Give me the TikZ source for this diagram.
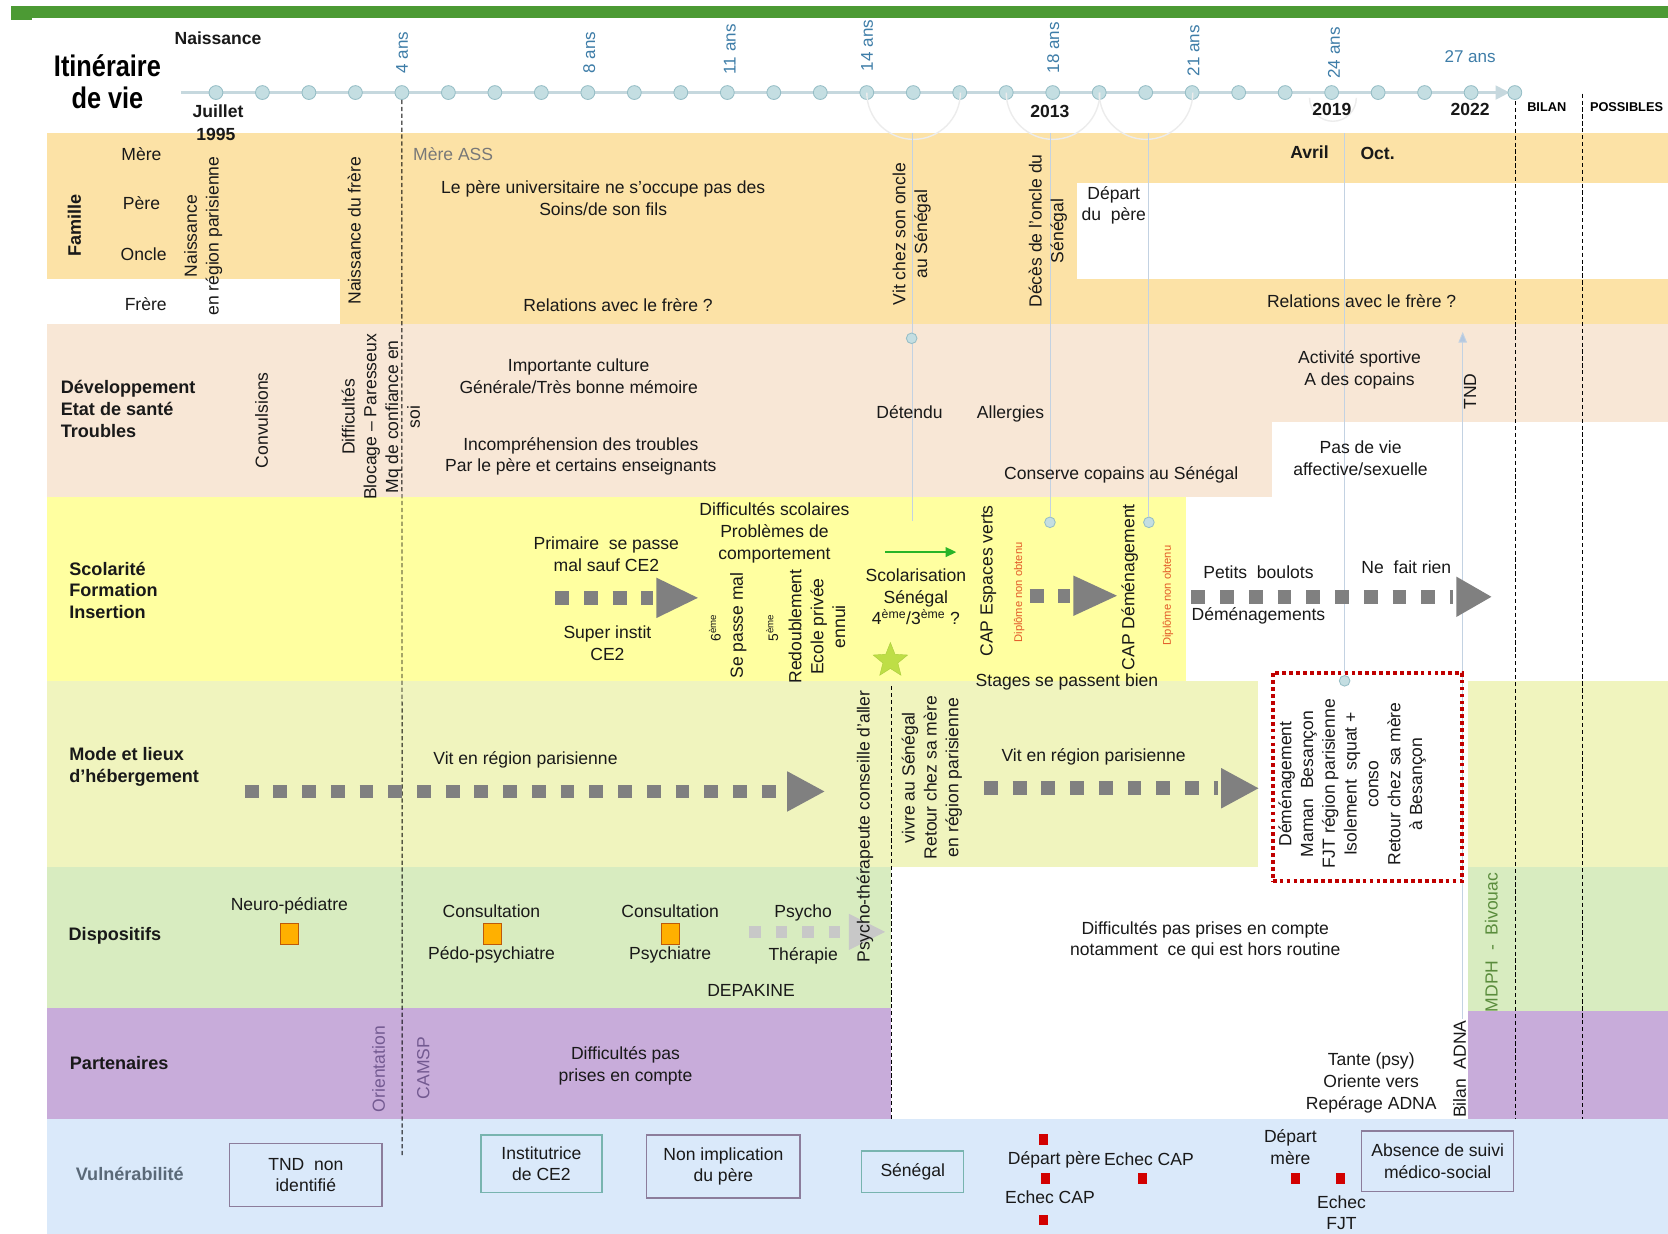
\documentclass[tikz,border=0pt]{standalone}
\usepackage{fontspec}
\setmainfont{Liberation Sans}
\newfontfamily\titlef[FakeStretch=0.85]{Liberation Sans}
\usetikzlibrary{arrows.meta,shapes.geometric}
\definecolor{barc}{RGB}{76,154,52}
\definecolor{famc}{RGB}{252,226,166}
\definecolor{devc}{RGB}{248,231,214}
\definecolor{scolc}{RGB}{255,255,160}
\definecolor{modec}{RGB}{240,244,190}
\definecolor{dispc}{RGB}{216,236,192}
\definecolor{partc}{RGB}{200,172,218}
\definecolor{vulc}{RGB}{218,233,250}
\definecolor{agec}{RGB}{62,125,168}
\definecolor{tcircf}{RGB}{196,222,226}
\definecolor{tcircd}{RGB}{150,190,198}
\definecolor{tlinec}{RGB}{198,216,222}
\definecolor{faintc}{RGB}{195,210,226}
\definecolor{arcc}{RGB}{236,236,236}
\definecolor{sqc}{RGB}{255,176,0}
\definecolor{sqd}{RGB}{190,90,10}
\definecolor{redc}{RGB}{210,0,0}
\definecolor{dipc}{RGB}{226,90,40}
\definecolor{greenc}{RGB}{40,180,40}
\definecolor{starc}{RGB}{190,222,70}
\definecolor{stard}{RGB}{170,205,60}
\definecolor{boxred}{RGB}{192,0,0}
\definecolor{vbord}{RGB}{140,125,155}
\definecolor{vbordt}{RGB}{120,180,175}
\definecolor{mdphc}{RGB}{90,140,60}
\definecolor{orc}{RGB}{115,90,145}
\definecolor{vultext}{RGB}{90,105,120}
\definecolor{arrgrey}{RGB}{128,128,128}
\definecolor{arrlight}{RGB}{200,200,200}
\definecolor{greytext}{RGB}{120,120,120}
\definecolor{tndarr}{RGB}{180,200,224}
\tikzset{
  txt/.style={font=\fontsize{16.5}{20.5}\selectfont, align=center, inner sep=0pt, text=black!90},
  txtb/.style={txt, font=\fontsize{16.5}{20.5}\selectfont\bfseries},
  lbl/.style={font=\fontsize{17}{20.5}\selectfont\bfseries, align=left, inner sep=0pt, text=black!90},
  rot/.style={txt, rotate=90},
  age/.style={font=\fontsize{16}{19}\selectfont, text=agec, rotate=90, inner sep=0pt, anchor=west},
  tcirc/.style={circle, draw=tcircd, fill=tcircf, minimum size=13pt, inner sep=0pt, line width=0.8pt},
  scirc/.style={circle, draw=tcircd, fill=tcircf, minimum size=10pt, inner sep=0pt, line width=0.8pt},
  faint/.style={draw=faintc, line width=0.8pt},
  vdash/.style={draw=black, line width=0.9pt, dash pattern=on 4pt off 2.5pt},
  osq/.style={fill=sqc, draw=sqd, minimum width=17pt, minimum height=19pt, inner sep=0pt, line width=1pt},
  redsq/.style={fill=redc, minimum width=9pt, minimum height=10pt, inner sep=0pt},
  vbox/.style={txt, draw=vbord, line width=1.3pt},
  vboxt/.style={txt, draw=vbordt, line width=1.3pt},
  dip/.style={font=\fontsize{10.5}{12}\selectfont, text=dipc, rotate=90, inner sep=0pt},
  smallrot/.style={rot, font=\fontsize{13}{15}\selectfont},
}
% squares-arrow: xstart, xheadstart, xtip, y, colour, half-height, square size
\newcommand\sqarr[7]{%
  \draw[line width=#7pt, #5, dash pattern=on #7pt off 14pt] (#1,#4) -- (#2,#4);
  \fill[#5] (#2+3,#4-#6) -- (#3,#4) -- (#2+3,#4+#6) -- cycle;}
\begin{document}
\begin{tikzpicture}[x=1pt,y=-1pt]
\useasboundingbox (0,0) rectangle (1568,1160);
\fill[white] (0,0) rectangle (1568,1160);
% top bar
\fill[barc] (10,6) rectangle (1568,17);
\fill[barc] (10,17) rectangle (30,19);

% bands
\fill[famc] (44,125) rectangle (1568,305);
\fill[white] (44,262) rectangle (320,305);
\fill[white] (1012,172) rectangle (1568,262);
\fill[devc] (44,305) rectangle (1568,467);
\fill[white] (1196,397) rectangle (1568,467);
\fill[scolc] (44,467) rectangle (1115,640);
\fill[modec] (44,640) rectangle (1183,815);
\fill[modec] (1380,640) rectangle (1568,815);
\fill[dispc] (44,815) rectangle (838,948);
\fill[dispc] (1380,815) rectangle (1568,950);
\fill[partc] (44,948) rectangle (838,1052);
\fill[partc] (1380,950) rectangle (1568,1052);
\fill[vulc] (44,1052) rectangle (1568,1160);

% timeline
\coordinate (tl0) at (170,87);
\coordinate (tlend) at (1419,87);
\draw[tlinec, line width=2pt, -{Triangle[length=13pt,width=13pt]}] (tl0) -- (tlend);
\foreach \k in {0,...,27} \node[tcirc] (t\k) at ({203+43.7*\k},87) {};
\node[tcirc] (t28) at (1424,87) {};
% faint arcs
\draw[arcc, line width=1.3pt] (t14.center) arc[start angle=180, end angle=0, radius=44];
\draw[arcc, line width=1.3pt] (t17.center) arc[start angle=180, end angle=0, radius=44];
\draw[arcc, line width=1.3pt] (t19.center) arc[start angle=180, end angle=0, radius=44];
\draw[arcc, line width=1.3pt] (1231,92) arc[start angle=180, end angle=0, radius=22];

% ages
\node[age] (a4) at (378,69) {4 ans};
\node[age] (a8) at (554,69) {8 ans};
\node[age] (a11) at (686,70) {11 ans};
\node[age] (a14) at (815,67) {14 ans};
\node[age] (a18) at (990,69) {18 ans};
\node[age] (a21) at (1122,72) {21 ans};
\node[age] (a24) at (1254,74) {24 ans};
\node[font=\fontsize{16}{19}\selectfont, text=agec, inner sep=0pt] (a27) at (1382,53) {27 ans};

% header labels
\node[font=\titlef\bfseries\fontsize{28}{30}\selectfont, align=center, inner sep=0pt] (titre) at (101,77) {Itinéraire\\de vie};
\node[txtb] (naissh) at (205,36) {Naissance};
\node[txtb] (juil) at (205,105) {Juillet};
\node[txtb] (y1995) at (203,126) {1995};
\node[txtb] (y2013) at (987,105) {2013};
\node[txtb] (y2019) at (1252,103) {2019};
\node[txtb] (y2022) at (1382,103) {2022};
\node[font=\fontsize{12}{14}\selectfont\bfseries, inner sep=0pt] (bil) at (1454,101) {BILAN};
\node[font=\fontsize{12}{14}\selectfont\bfseries, inner sep=0pt] (poss) at (1529,101) {POSSIBLES};

% dashed black verticals
\coordinate (d4b) at (378,1088);
\draw[vdash] (t4.south) -- (d4b);
\coordinate (dbt) at (1425,95); \coordinate (dbb) at (1425,1052);
\draw[vdash] (dbt) -- (dbb);
\coordinate (dpt) at (1488,88); \coordinate (dpb) at (1488,1052);
\draw[vdash] (dpt) -- (dpb);
\coordinate (dst) at (838,645); \coordinate (dsb) at (838,1052);
\draw[vdash] (dst) -- (dsb);

% faint verticals with small circles
\coordinate (f1t) at (858,125); \coordinate (f1b) at (858,490);
\draw[faint] (f1t) -- (f1b);
\node[scirc] (sc1) at (857,318) {};
\coordinate (f2t) at (987,125);
\node[scirc] (sc2) at (987,491) {};
\draw[faint] (f2t) -- (sc2);
\coordinate (f3t) at (1080,125);
\node[scirc] (sc3) at (1080,491) {};
\draw[faint] (f3t) -- (sc3);
\coordinate (f4t) at (1264,125);
\coordinate (f4b) at (1264,636);
\draw[faint] (f4t) -- (f4b);

% ---------- Famille
\node[lbl, rotate=90] (famille) at (70,212) {Famille};
\node[txt] (mere) at (133,145) {Mère};
\node[txt] (pere) at (133,191) {Père};
\node[txt] (oncle) at (135,239) {Oncle};
\node[txt] (frere) at (137,286) {Frère};
\node[rot] (naiss) at (191,222) {Naissance\\en région parisienne};
\node[rot] (naissfr) at (333,217) {Naissance du frère};
\node[txt, text=greytext] (mass) at (426,145) {Mère ASS};
\node[txt] (pereuni) at (567,186) {Le père universitaire ne s’occupe pas des\\Soins/de son fils};
\node[txt] (rel1) at (581,287) {Relations avec le frère ?};
\node[rot] (vitoncle) at (857,220) {Vit chez son oncle\\au Sénégal};
\node[rot] (deces) at (985,217) {Décès de l’oncle du\\Sénégal};
\node[txt] (departp) at (1047,193) {Départ\\du~~père};
\node[txtb] (avril) at (1231,143) {Avril};
\node[txtb] (oct) at (1295,144) {Oct.};
\node[txt] (rel2) at (1280,283) {Relations avec le frère ?};

% ---------- Développement
\node[lbl, anchor=west] (devl) at (57,384.5) {Développement\\Etat de santé\\Troubles};
\node[rot] (conv) at (246,395) {Convulsions};
\node[rot] (diffb) at (358,392) {Difficultés\\Blocage – Paresseux\\Mq de confiance en\\soi};
\node[txt] (cult) at (544,354) {Importante culture\\Générale/Très bonne mémoire};
\node[txt] (incomp) at (546,429) {Incompréhension des troubles\\Par le père et certains enseignants};
\node[txt] (detendu) at (855,387) {Détendu};
\node[txt] (allerg) at (950,389) {Allergies};
\node[txt] (conserve) at (1054,446) {Conserve copains au Sénégal};
\node[txt] (sport) at (1278,348) {Activité sportive\\A des copains};
\node[rot] (tnd) at (1382,368) {TND};
\node[txt] (pasvie) at (1279,431) {Pas de vie\\affective/sexuelle};
\coordinate (tndb) at (1375,958); \coordinate (tndt) at (1375,312);
\draw[faint, -{Triangle[length=10pt,width=8pt,fill=tndarr]}] (tndb) -- (tndt);

% ---------- Scolarité
\node[lbl, anchor=west] (scoll) at (65,555) {Scolarité\\Formation\\Insertion};
\node[txt] (prim) at (570,521) {Primaire~~se passe\\mal sauf CE2};
\sqarr{522}{614}{656}{562}{arrgrey}{19}{13}
\node[txt] (superi) at (571,605) {Super instit\\CE2};
\node[txt] (diffsc) at (728,501) {Difficultés scolaires\\Problèmes de\\comportement};
\node[smallrot] (six) at (672,590) {6\textsuperscript{ème}};
\node[rot] (sepasse) at (694,588) {Se passe mal};
\node[smallrot] (cinq) at (726,590) {5\textsuperscript{ème}};
\node[rot] (redoubl) at (768,589) {Redoublement\\Ecole privée\\ennui};
\coordinate (ga1) at (832,519); \coordinate (ga2) at (899,519);
\draw[greenc, line width=1.8pt, -{Triangle[length=10pt,width=9pt]}] (ga1) -- (ga2);
\node[txt] (scolsen) at (861,561) {Scolarisation\\Sénégal\\4\textsuperscript{ème}/3\textsuperscript{ème} ?};
\node[star, star points=5, star point ratio=2.3, fill=starc, draw=stard, minimum size=34pt, inner sep=0pt] (etoile) at (837,621) {};
\node[rot] (capev) at (929,546) {CAP Espaces verts};
\node[dip] (dip1) at (958,557) {Diplôme non obtenu};
\sqarr{968}{1006}{1050}{560}{arrgrey}{19}{13}
\node[rot] (capdem) at (1062,552) {CAP Déménagement};
\node[dip] (dip2) at (1098,560) {Diplôme non obtenu};
\sqarr{1120}{1366}{1402}{561}{arrgrey}{19}{13}
\node[txt] (boulots) at (1183,538) {Petits~~boulots};
\node[txt] (rien) at (1322,533) {Ne~~fait rien};
\node[txt] (demen) at (1183,579) {Déménagements};
\node[txt] (stages) at (1003,641) {Stages se passent bien};

% ---------- Dispositifs arrow (behind the vertical text)
\sqarr{704}{795}{832}{876}{arrlight}{17}{11}

% ---------- Mode et lieux
\node[lbl, anchor=west] (model) at (65,721) {Mode et lieux\\d’hébergement};
\node[txt] (vit1) at (494,714) {Vit en région parisienne};
\sqarr{230}{737}{775}{744}{arrgrey}{19}{13}
\node[rot] (psyth) at (813,777) {Psycho-thérapeute conseille d’aller};
\node[rot] (vivre) at (876,731) {vivre au Sénégal\\Retour chez sa mère\\en région parisienne};
\node[txt] (vit2) at (1028,711) {Vit en région parisienne};
\sqarr{925}{1145}{1183}{741}{arrgrey}{19}{13}
\node[draw=boxred, fill=white, line width=3.5pt, dash pattern=on 3.5pt off 3pt, minimum width=178pt, minimum height=196pt, inner sep=0pt] (redbox) at (1285.5,730.5) {};
\node[rot] (besan) at (1271,737) {Déménagement\\Maman~~Besançon\\FJT région parisienne\\Isolement~~squat +\\conso\\Retour chez sa mère\\à Besançon};
\node[scirc] (sc4) at (1264,640) {};

% ---------- Dispositifs
\node[lbl] (displ) at (108,880) {Dispositifs};
\node[txt] (neuro) at (272,852) {Neuro-pédiatre};
\node[osq] (sq1) at (272,878) {};
\node[txt] (cons1) at (462,857) {Consultation};
\node[osq] (sq2) at (463,878) {};
\node[txt] (pedo) at (462,898) {Pédo-psychiatre};
\node[txt] (cons2) at (630,857) {Consultation};
\node[osq] (sq3) at (630,878) {};
\node[txt] (psychi) at (630,898) {Psychiatre};
\node[txt] (psycho) at (755,858) {Psycho};
\node[txt] (therap) at (755,899) {Thérapie};
\node[txt] (depak) at (706,931) {DEPAKINE};
\node[txt] (diffpc) at (1133,884) {Difficultés pas prises en compte\\notamment~~ce qui est hors routine};
\node[rot, text=mdphc] (mdph) at (1402,886) {MDPH~~-~~Bivouac};

% ---------- Partenaires
\node[lbl] (partl) at (112,999) {Partenaires};
\node[rot, text=orc] (orient) at (356,1005) {Orientation};
\node[rot, text=orc] (camsp) at (398,1004) {CAMSP};
\node[txt] (diffpas) at (588,1002) {Difficultés pas\\prises en compte};
\node[txt] (tante) at (1289,1018) {Tante (psy)\\Oriente vers\\Repérage ADNA};
\node[rot] (bilan) at (1372,1005) {Bilan~~ADNA};

% ---------- Vulnérabilité
\node[lbl, text=vultext] (vull) at (122,1104) {Vulnérabilité};
\node[vbox, minimum width=143pt, minimum height=59pt] (v1) at (287.5,1104.5) {TND~~non\\identifié};
\node[vboxt, minimum width=114pt, minimum height=54pt] (v2) at (509,1094) {Institutrice\\de CE2};
\node[vbox, minimum width=144pt, minimum height=59pt] (v3) at (680,1096.5) {Non implication\\du père};
\node[vboxt, minimum width=96pt, minimum height=39pt] (v4) at (858,1101.5) {Sénégal};
\node[vbox, minimum width=143pt, minimum height=57pt] (v5) at (1351.5,1091.5) {Absence de suivi\\médico-social};
\node[redsq] (r1) at (981,1071) {};
\node[redsq] (r2) at (983,1108) {};
\node[redsq] (r3) at (981,1147) {};
\node[redsq] (r4) at (1074,1108) {};
\node[redsq] (r5) at (1218,1108) {};
\node[redsq] (r6) at (1260,1108) {};
\node[txt] (depp) at (991,1090) {Départ père};
\node[txt] (ecap1) at (1080,1090) {Echec CAP};
\node[txt] (ecap2) at (987,1125) {Echec CAP};
\node[txt] (depm) at (1213,1078) {Départ\\mère};
\node[txt] (efjt) at (1261,1140) {Echec\\FJT};
\end{tikzpicture}
\end{document}
